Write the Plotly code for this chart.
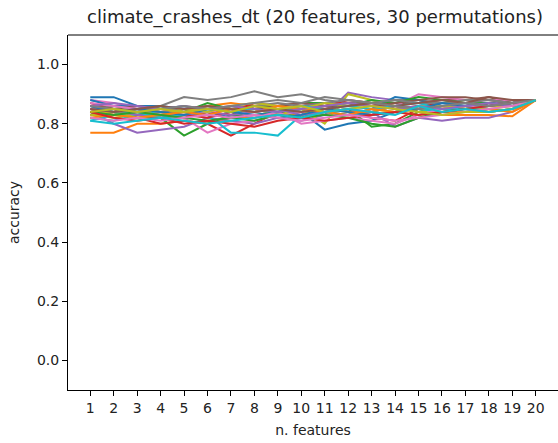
import plotly.graph_objects as go

n_features = list(range(1, 21))

series = [
    [0.89,0.89,0.86,0.86,0.85,0.84,0.85,0.84,0.85,0.84,0.78,0.80,0.81,0.84,0.86,0.85,0.86,0.87,0.87,0.88],
    [0.77,0.77,0.80,0.80,0.81,0.80,0.82,0.82,0.84,0.83,0.84,0.85,0.83,0.84,0.86,0.83,0.83,0.83,0.825,0.88],
    [0.85,0.84,0.82,0.82,0.76,0.80,0.83,0.83,0.84,0.82,0.84,0.85,0.79,0.80,0.84,0.86,0.86,0.87,0.87,0.88],
    [0.87,0.85,0.82,0.80,0.81,0.80,0.76,0.80,0.84,0.85,0.86,0.84,0.82,0.81,0.85,0.86,0.85,0.87,0.86,0.88],
    [0.84,0.80,0.77,0.78,0.79,0.82,0.81,0.80,0.82,0.81,0.83,0.905,0.89,0.88,0.87,0.86,0.86,0.87,0.87,0.88],
    [0.83,0.84,0.84,0.83,0.82,0.84,0.83,0.86,0.85,0.85,0.86,0.86,0.87,0.87,0.87,0.88,0.88,0.89,0.87,0.88],
    [0.88,0.87,0.85,0.84,0.82,0.77,0.80,0.81,0.83,0.84,0.83,0.83,0.84,0.86,0.90,0.89,0.88,0.88,0.88,0.88],
    [0.85,0.86,0.85,0.86,0.89,0.88,0.89,0.91,0.89,0.90,0.88,0.87,0.87,0.88,0.88,0.87,0.88,0.88,0.87,0.88],
    [0.83,0.82,0.83,0.84,0.84,0.86,0.85,0.85,0.83,0.85,0.80,0.90,0.88,0.86,0.84,0.85,0.86,0.85,0.86,0.88],
    [0.82,0.81,0.83,0.84,0.83,0.83,0.77,0.77,0.76,0.83,0.84,0.83,0.84,0.86,0.85,0.84,0.85,0.86,0.86,0.88],
    [0.88,0.86,0.86,0.85,0.86,0.84,0.82,0.83,0.84,0.85,0.84,0.83,0.85,0.89,0.88,0.86,0.87,0.86,0.87,0.88],
    [0.85,0.83,0.84,0.83,0.84,0.86,0.87,0.86,0.85,0.86,0.85,0.84,0.84,0.86,0.85,0.86,0.85,0.84,0.85,0.88],
    [0.86,0.85,0.84,0.86,0.84,0.87,0.85,0.86,0.86,0.87,0.87,0.86,0.88,0.87,0.89,0.88,0.87,0.87,0.86,0.88],
    [0.86,0.85,0.83,0.82,0.83,0.82,0.84,0.87,0.86,0.87,0.86,0.88,0.87,0.85,0.86,0.87,0.87,0.86,0.87,0.88],
    [0.85,0.84,0.83,0.82,0.83,0.84,0.83,0.84,0.85,0.83,0.84,0.85,0.84,0.79,0.82,0.81,0.82,0.82,0.84,0.88],
    [0.84,0.85,0.86,0.85,0.84,0.83,0.86,0.85,0.86,0.87,0.86,0.87,0.86,0.87,0.88,0.89,0.89,0.88,0.87,0.88],
    [0.87,0.86,0.85,0.84,0.85,0.84,0.85,0.82,0.84,0.80,0.81,0.82,0.81,0.80,0.83,0.85,0.86,0.86,0.87,0.88],
    [0.84,0.83,0.85,0.84,0.85,0.86,0.84,0.86,0.87,0.86,0.87,0.88,0.87,0.88,0.87,0.87,0.87,0.88,0.87,0.88],
    [0.83,0.84,0.82,0.83,0.85,0.84,0.86,0.87,0.86,0.85,0.87,0.86,0.85,0.84,0.86,0.86,0.85,0.86,0.86,0.88],
    [0.81,0.83,0.84,0.82,0.83,0.85,0.84,0.85,0.84,0.86,0.85,0.86,0.85,0.86,0.87,0.85,0.85,0.86,0.87,0.88],
    [0.86,0.84,0.85,0.84,0.83,0.85,0.84,0.83,0.82,0.83,0.85,0.84,0.83,0.84,0.85,0.87,0.86,0.87,0.86,0.88],
    [0.82,0.83,0.82,0.83,0.84,0.83,0.85,0.84,0.86,0.85,0.84,0.83,0.85,0.84,0.83,0.84,0.84,0.85,0.84,0.88],
    [0.84,0.83,0.84,0.83,0.82,0.81,0.82,0.81,0.83,0.82,0.83,0.82,0.80,0.79,0.82,0.84,0.85,0.84,0.85,0.88],
    [0.84,0.82,0.81,0.82,0.80,0.81,0.80,0.79,0.81,0.82,0.81,0.82,0.83,0.84,0.83,0.84,0.85,0.86,0.87,0.88],
    [0.86,0.87,0.86,0.85,0.86,0.85,0.86,0.85,0.84,0.85,0.86,0.87,0.86,0.85,0.86,0.85,0.86,0.87,0.86,0.88],
    [0.85,0.84,0.85,0.86,0.85,0.86,0.85,0.84,0.85,0.84,0.85,0.86,0.87,0.86,0.87,0.88,0.87,0.89,0.88,0.88],
    [0.82,0.81,0.82,0.81,0.82,0.83,0.82,0.83,0.82,0.81,0.82,0.83,0.82,0.81,0.82,0.83,0.84,0.85,0.86,0.88],
    [0.86,0.85,0.84,0.85,0.86,0.85,0.86,0.87,0.88,0.87,0.89,0.88,0.87,0.86,0.85,0.86,0.87,0.86,0.87,0.88],
    [0.84,0.85,0.84,0.85,0.84,0.85,0.84,0.86,0.85,0.86,0.84,0.85,0.86,0.85,0.84,0.83,0.84,0.84,0.85,0.88],
    [0.81,0.80,0.81,0.82,0.81,0.80,0.81,0.82,0.83,0.82,0.84,0.85,0.84,0.83,0.86,0.84,0.85,0.84,0.85,0.88],
]

colors = ["#1f77b4", "#ff7f0e", "#2ca02c", "#d62728", "#9467bd",
          "#8c564b", "#e377c2", "#7f7f7f", "#bcbd22", "#17becf"]

title_text = "climate_crashes_dt (20 features, 30 permutations)"
x_label = "n. features"
y_label = "accuracy"
y_ticks = [0.0, 0.2, 0.4, 0.6, 0.8, 1.0]

font = "DejaVu Sans"

fig = go.Figure()
for i, s in enumerate(series):
    fig.add_trace(go.Scatter(
        x=n_features, y=s, mode="lines",
        line=dict(color=colors[i % 10], width=2),
        showlegend=False,
    ))

fig.update_layout(
    width=558, height=443,
    margin=dict(l=68, r=0, t=35, b=53),
    paper_bgcolor="white", plot_bgcolor="white",
    font=dict(family=font, size=14, color="black"),
    title=dict(text=title_text, x=0.5645, xanchor="center", y=0.962, yanchor="middle",
               font=dict(family=font, size=18, color="#222222")),
    shapes=[dict(type="line", xref="paper", yref="paper", x0=0, x1=1, y0=1, y1=1,
                 line=dict(color="black", width=1))],
)
fig.update_xaxes(
    range=[0.05, 20.95], tickvals=n_features, ticktext=[str(v) for v in n_features],
    showgrid=False, zeroline=False, showline=True, linecolor="black", linewidth=1,
    mirror=False, ticks="outside", ticklen=5, tickcolor="black",
    tickfont=dict(family=font, size=14, color="#222222"),
    title=dict(text=x_label, font=dict(family=font, size=14, color="#222222"), standoff=10),
)
fig.update_yaxes(
    range=[-0.1, 1.1], tickvals=y_ticks, ticktext=[f"{v:.1f}" for v in y_ticks],
    showgrid=False, zeroline=False, showline=True, linecolor="black", linewidth=1,
    mirror=False, ticks="outside", ticklen=5, tickcolor="black",
    tickfont=dict(family=font, size=14, color="#222222"),
    title=dict(text=y_label, font=dict(family=font, size=14, color="#222222"), standoff=14),
)

fig.write_html("out.html")
